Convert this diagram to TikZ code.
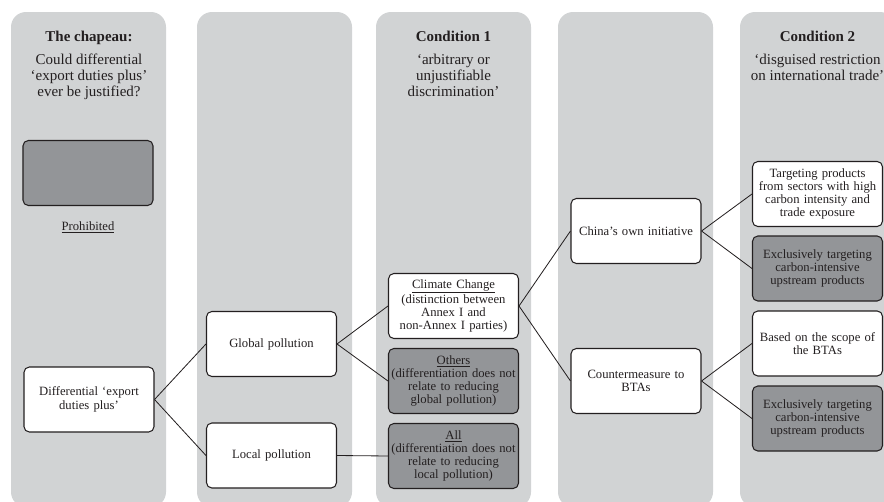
\documentclass[tikz,border=0pt]{standalone}
\usepackage{fontspec}
\setmainfont{Liberation Serif}
\definecolor{colgray}{HTML}{D1D3D4}
\definecolor{boxgray}{HTML}{939598}
\definecolor{inkdark}{HTML}{231F20}

\begin{document}
\begin{tikzpicture}[x=0.03cm, y=-0.03cm,
		column/.style={fill=colgray, rounded corners=0.45cm},
		box/.style={draw=inkdark, line width=0.9pt, rounded corners=0.16cm, fill=white, text=inkdark,
			minimum width=3.9cm, minimum height=1.95cm, text width=3.86cm, inner sep=0.02cm,
			align=center, font=\fontsize{10.8}{11.35}\selectfont},
		darkbox/.style={box, fill=boxgray},
		head/.style={text=inkdark, align=center, inner sep=0pt, font=\fontsize{12.8}{13.5}\selectfont},
		headtitle/.style={head, font=\fontsize{12.8}{13.5}\selectfont\bfseries},
		link/.style={draw=inkdark, line width=0.7pt}]
			%%%%% START %%%%%
			
			\useasboundingbox (0, 0) rectangle (884, 502);
			\clip (0, 0) rectangle (884, 502);
			
			% columns
			\foreach \cx in {11, 197, 376, 558, 740}
				\fill[column] (\cx, 12) rectangle ++(155, 495);
			
			% headings (base = last line)
			\node[headtitle, anchor=base] (chapeau) at (89, 41.5) {The chapeau:};
			\node[head, anchor=base] (question) at (89, 96.6) {Could differential\\‘export duties plus’\\ever be justified?};
			
			\node[headtitle, anchor=base] (cond1) at (453.5, 41.5) {Condition 1};
			\node[head, anchor=base] (cond1txt) at (453.5, 96.6) {‘arbitrary or\\unjustifiable\\discrimination’};
			
			\node[headtitle, anchor=base] (cond2) at (817.5, 41.5) {Condition 2};
			\node[head, anchor=base] (cond2txt) at (817.5, 80.8) {‘disguised restriction\\on international trade’};
			
			% column 1
			\node[darkbox] (prohibited) at (88, 173) {};
			\node[text=inkdark, font=\fontsize{10.8}{11.35}\selectfont, anchor=base] (prohlabel) at (88, 230) {\underline{Prohibited}};
			\node[box] (edp) at (89, 399.5) {Differential ‘export\\duties plus’};
			
			% column 2
			\node[box] (global) at (271.5, 344) {Global pollution};
			\node[box] (local) at (271.5, 455.5) {Local pollution};
			
			% column 3
			\node[box] (climate) at (453.5, 306) {\underline{Climate Change}\\(distinction between\\Annex I and\\non-Annex I parties)};
			\node[darkbox] (others) at (453.5, 381) {\underline{Others}\\(differentiation does not\\relate to reducing\\global pollution)};
			\node[darkbox] (all) at (453.5, 456) {\underline{All}\\(differentiation does not\\relate to reducing\\local pollution)};
			
			% column 4
			\node[box] (china) at (636, 231) {China’s own initiative};
			\node[box] (counter) at (636, 381) {Countermeasure to\\BTAs};
			
			% column 5
			\node[box] (targeting) at (817.5, 194) {Targeting products\\from sectors with high\\carbon intensity and\\trade exposure};
			\node[darkbox] (exclA) at (817.5, 268.5) {Exclusively targeting\\carbon-intensive\\upstream products};
			\node[box] (scope) at (817.5, 343.5) {Based on the scope of\\the BTAs};
			\node[darkbox] (exclB) at (817.5, 418.5) {Exclusively targeting\\carbon-intensive\\upstream products};
			
			% links
			\draw[link] (edp.east) -- (global.west);
			\draw[link] (edp.east) -- (local.west);
			\draw[link] (global.east) -- (climate.west);
			\draw[link] (global.east) -- (others.west);
			\draw[link] (local.east) -- (all.west);
			\draw[link] (climate.east) -- (china.west);
			\draw[link] (climate.east) -- (counter.west);
			\draw[link] (china.east) -- (targeting.west);
			\draw[link] (china.east) -- (exclA.west);
			\draw[link] (counter.east) -- (scope.west);
			\draw[link] (counter.east) -- (exclB.west);
			
			%%%%% END %%%%%
\end{tikzpicture}
\end{document}
